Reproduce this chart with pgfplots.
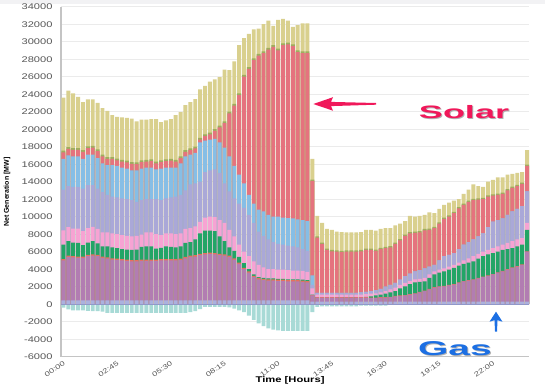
\documentclass[border=0pt]{standalone}
\usepackage{fontspec}
\setmainfont{Liberation Sans}
\newfontfamily\wide[FakeStretch=1.35]{Liberation Sans}
\usepackage{graphicx}
\usepackage{pgfplots}
\usepackage{pgfplotstable}
\pgfplotsset{compat=1.18}
\definecolor{khaki}{HTML}{D9D08E}
\definecolor{olive}{HTML}{9DAE5E}
\definecolor{solar}{HTML}{E5737E}
\definecolor{lblue}{HTML}{86BEE6}
\definecolor{lav}{HTML}{AAA8D8}
\definecolor{pink}{HTML}{F7A3D3}
\definecolor{grn}{HTML}{22A566}
\definecolor{orng}{HTML}{E8705C}
\definecolor{purp}{HTML}{B27DB2}
\definecolor{peri}{HTML}{ABB1DE}
\definecolor{teal}{HTML}{A8DAD6}
\definecolor{zeroc}{HTML}{9298C9}
\definecolor{gridc}{HTML}{EBEBEB}
\definecolor{axisc}{HTML}{C4C4C4}
\definecolor{tickc}{HTML}{555555}
\definecolor{solarc}{HTML}{F0185A}
\definecolor{gasc}{HTML}{1C6FE3}
\definecolor{topband}{HTML}{F2F2F4}
% cumulative tops of each layer (MW); N = negative part
\pgfplotstableread{
i N A B C D E F G H I J
0 -400 450 5000 5150 6800 8450 13100 16600 17350 17550 23600
1 -600 450 5400 5550 7200 8800 13500 17000 17750 17950 24400
2 -700 450 5350 5500 7050 8650 13400 16900 17650 17850 24100
3 -700 450 5300 5450 7000 8650 13400 16900 17650 17850 23700
4 -700 450 5300 5450 6750 8350 13200 16600 17400 17600 23100
5 -750 450 5500 5650 7050 8700 13600 17100 17850 18050 23400
6 -800 450 5550 5700 7200 8850 13600 17100 17900 18100 23400
7 -800 450 5500 5650 6950 8600 13200 16700 17500 17700 23000
8 -850 450 5300 5450 6600 8200 12800 16100 16900 17100 22400
9 -1000 450 5200 5350 6600 8200 12500 15900 16600 16800 22100
10 -1000 450 5100 5250 6500 8100 12300 15900 16600 16800 21600
11 -1000 450 5050 5200 6400 8000 12200 15800 16450 16650 21400
12 -1000 450 5000 5150 6300 7900 12100 15600 16300 16500 21350
13 -1000 450 4950 5100 6250 7800 12000 15500 16200 16400 21300
14 -1000 450 4900 5050 6200 7750 11900 15300 16050 16250 21200
15 -1000 450 4900 5050 6250 7800 11700 15300 16000 16200 20900
16 -1000 450 4950 5100 6550 7950 11900 15500 16250 16450 21100
17 -1000 450 4950 5100 6600 8200 12000 15600 16300 16500 21100
18 -1000 450 4950 5100 6600 8200 12000 15600 16350 16550 21150
19 -1000 450 4950 5100 6350 8000 12000 15400 16100 16300 21150
20 -1000 450 5000 5150 6450 7900 11900 15500 16250 16450 20800
21 -1000 450 5000 5150 6600 8100 12100 15600 16350 16550 21000
22 -1000 450 5000 5150 6550 8100 12200 15600 16400 16600 21150
23 -1000 450 5000 5150 6500 8000 12300 15600 16300 16500 21600
24 -1000 450 5050 5200 6600 8100 12500 16100 16700 16900 21950
25 -1000 450 5250 5400 7000 8600 13000 16900 17400 17600 22750
26 -900 450 5400 5550 7100 8700 13700 17100 17600 17800 23100
27 -800 450 5450 5600 7400 8900 13800 17300 17800 18000 23450
28 -550 450 5600 5750 8100 9400 14000 18500 18800 19000 24550
29 -300 450 5700 5850 8400 9900 15100 18700 19200 19400 24950
30 -300 450 5750 5900 8400 10000 15300 18800 19400 19600 25450
31 -300 450 5700 5850 8350 9950 15400 18900 19800 20000 25700
32 -300 450 5600 5750 7750 9600 15000 18500 20200 20400 25950
33 -300 450 5550 5700 7200 9300 13800 17900 20700 20900 26800
34 -350 450 5400 5550 6500 8500 12900 16900 21800 22000 26750
35 -500 450 5100 5250 6100 7750 12100 15800 22700 22900 27750
36 -700 450 4600 4750 5400 6800 11500 14800 23900 24100 29600
37 -900 450 4000 4150 4700 6000 11000 13800 26000 26200 30400
38 -1300 450 3600 3750 4000 5500 10200 12500 26900 27100 30900
39 -1800 450 3100 3250 3400 4900 9300 11500 27900 28100 31400
40 -2200 450 2850 3000 3100 4500 8300 10800 28400 28600 31500
41 -2500 450 2750 2900 3000 4200 7800 10600 28700 28900 32000
42 -2750 450 2700 2850 2950 4000 7400 10200 29100 29300 32400
43 -2900 450 2700 2850 2950 4000 7100 10000 29400 29600 31800
44 -3000 450 2650 2800 2900 3950 6900 10000 29000 29200 32500
45 -3050 450 2650 2800 2900 3950 6800 9900 29600 29800 32600
46 -3050 450 2600 2750 2850 3900 6700 9850 29700 29900 32400
47 -3050 450 2600 2750 2850 3850 6600 9800 29500 29700 31700
48 -3050 450 2600 2750 2850 3850 6500 9700 28800 29000 31900
49 -3050 450 2550 2700 2800 3800 6300 9600 28700 28900 32100
50 -3050 450 2500 2650 2750 3700 6100 9500 28700 28900 32100
51 -900 300 1000 1050 1100 1800 2200 3300 14100 14250 16600
52 -300 300 750 800 800 1100 1300 1300 7600 7750 10100
53 -250 300 750 800 800 1100 1300 1300 6900 7050 9300
54 -250 300 750 800 800 1100 1300 1300 6200 6350 8600
55 -250 300 750 800 800 1100 1300 1300 6050 6200 8500
56 -250 300 750 800 800 1100 1300 1300 6000 6150 8300
57 -250 300 750 800 800 1100 1300 1300 5950 6100 8250
58 -250 300 750 800 800 1100 1300 1300 6000 6150 8200
59 -250 300 750 800 800 1100 1300 1300 6000 6150 8200
60 -250 300 750 800 800 1100 1300 1300 6000 6150 8200
61 -150 300 750 800 800 1100 1350 1350 6050 6200 8250
62 -150 300 750 800 850 1150 1400 1400 6200 6350 8500
63 -150 300 700 750 900 1200 1500 1500 6200 6350 8500
64 -150 300 700 750 1000 1250 1600 1600 6100 6250 8400
65 -150 300 750 800 1100 1350 1750 1750 6300 6450 8600
66 -150 300 750 800 1200 1500 2000 2000 6400 6550 8700
67 -50 300 800 850 1350 1700 2200 2200 6500 6650 8700
68 -50 300 900 950 1500 1900 2450 2450 6900 7050 9000
69 -50 300 950 1000 1800 2200 2800 2800 7300 7450 9200
70 -50 300 1000 1050 2050 2450 3200 3200 7800 7950 9500
71 0 300 1100 1150 2300 2650 3500 3500 8100 8250 10100
72 0 300 1200 1250 2500 2850 3750 3750 8150 8300 10000
73 0 300 1350 1400 2550 2900 3900 3900 8200 8350 10100
74 0 300 1500 1550 2600 3000 4100 4100 8450 8600 10200
75 0 300 1700 1750 3000 3400 4300 4300 8500 8650 10500
76 0 300 1900 1950 3400 3750 4500 4500 8700 8850 10400
77 0 300 2000 2050 3600 3950 5000 5000 9200 9350 10900
78 0 300 2050 2100 3750 4100 5500 5500 9750 9900 11350
79 0 300 2150 2200 3950 4300 5650 5650 10000 10150 11600
80 0 300 2250 2300 4150 4500 5850 5850 10400 10550 11850
81 0 300 2450 2500 4400 4750 6300 6300 10950 11100 12000
82 0 300 2600 2650 4600 5000 6800 6800 11350 11500 12600
83 0 300 2700 2750 4750 5250 7100 7100 11700 11850 13100
84 0 300 2800 2850 4900 5500 7400 7400 11900 12050 13700
85 0 300 2950 3000 5200 5750 7750 7750 11950 12100 13500
86 0 300 3100 3150 5500 6000 8100 8100 12000 12150 13400
87 0 300 3250 3300 5700 6200 8800 8800 12300 12450 14000
88 0 300 3400 3450 5850 6400 9450 9450 12400 12550 14200
89 0 300 3600 3650 6000 6600 9600 9600 12500 12650 14500
90 0 300 3750 3800 6200 6800 9800 9800 12600 12750 14500
91 0 300 3950 4000 6300 7000 10200 10200 13000 13150 14800
92 0 300 4150 4200 6400 7200 10600 10600 13300 13450 14900
93 0 300 4300 4350 6600 7400 10900 10900 13500 13650 15000
94 0 300 4500 4550 6800 7550 11200 11200 13750 13900 15100
95 0 300 6000 6050 8500 9300 12900 12900 15800 15950 17600
}\gen
\begin{document}
\begin{tikzpicture}
\useasboundingbox (-61pt,-27.3pt) rectangle (484pt,356.7pt);
\fill[topband] (-61pt,353pt) rectangle (484pt,356.7pt);
\begin{axis}[
  at={(0pt,0pt)}, anchor=south west,
  scale only axis, width=468.5pt, height=350pt,
  xmin=-0.5, xmax=95.5, ymin=-6000, ymax=34000,
  ybar, bar width=0.8, bar shift=0pt,
  axis x line*=bottom, axis y line*=left,
  axis line style={draw=axisc, line width=1.2pt},
  ytick={-6000,-4000,...,34000},
  scaled y ticks=false,
  xtick={0,11,22,33,44,55,66,77,88},
  xticklabels={00:00,02:45,05:30,08:15,11:00,13:45,16:30,19:15,22:00},
  major tick style={draw=none},
  ymajorgrids, grid style={draw=gridc, line width=0.8pt},
  /pgf/number format/assume math mode=true,
  /pgf/number format/1000 sep={},
  y tick label style={font=\wide\fontsize{8.2}{9}\selectfont, text=tickc, xshift=-5pt},
  x tick label style={font=\wide\fontsize{6.8}{7}\selectfont, text=tickc, rotate=35, anchor=north east, inner sep=0.5pt, xshift=0.5pt, yshift=1.5pt},
  xlabel={Time [Hours]}, ylabel={Net Generation [MW]},
  every axis x label/.style={at={(axis description cs:0.489,-0.0665)}, anchor=center, font=\wide\bfseries\fontsize{8.3}{9}\selectfont},
  every axis y label/.style={at={(axis description cs:-0.115,0.47)}, rotate=90, anchor=center, font=\bfseries\fontsize{7}{8}\selectfont},
]
\addplot[draw=none, fill=khaki] table[x=i, y=J]{\gen};
\addplot[draw=none, fill=olive] table[x=i, y=I]{\gen};
\addplot[draw=none, fill=solar] table[x=i, y=H]{\gen};
\addplot[draw=none, fill=lblue] table[x=i, y=G]{\gen};
\addplot[draw=none, fill=lav] table[x=i, y=F]{\gen};
\addplot[draw=none, fill=pink] table[x=i, y=E]{\gen};
\addplot[draw=none, fill=grn] table[x=i, y=D]{\gen};
\addplot[draw=none, fill=orng] table[x=i, y=C]{\gen};
\addplot[draw=none, fill=purp] table[x=i, y=B]{\gen};
\addplot[draw=none, fill=peri] table[x=i, y=A]{\gen};
\addplot[draw=none, fill=teal] table[x=i, y=N]{\gen};
\draw[zeroc, line width=0.6pt] (axis cs:-0.5,0) -- (axis cs:95.5,0);
\end{axis}
% Solar annotation
\fill[solarc] (252.3pt,252.7pt) -- (272pt,259.5pt) -- (270pt,254.8pt) -- (315pt,253.7pt) -- (315pt,252pt) -- (270pt,250.6pt) -- (272pt,246pt) -- cycle;
\node[text=black!30, font=\bfseries\fontsize{18}{18}\selectfont, inner sep=0pt] at (404pt,243.7pt) {\scalebox{2.0}[1]{Solar}};
\node[text=solarc, font=\bfseries\fontsize{18}{18}\selectfont, inner sep=0pt] at (403pt,244.7pt) {\scalebox{2.0}[1]{Solar}};
% Gas annotation
\fill[gasc] (435pt,45pt) -- (441.5pt,35pt) -- (436.5pt,36.5pt) -- (436pt,25pt) -- (434pt,25pt) -- (433.5pt,36.5pt) -- (428.5pt,35pt) -- cycle;
\node[text=black!30, font=\bfseries\fontsize{20}{20}\selectfont, inner sep=0pt] at (395pt,6.7pt) {\scalebox{1.95}[1]{Gas}};
\node[text=gasc, font=\bfseries\fontsize{20}{20}\selectfont, inner sep=0pt] at (394pt,7.7pt) {\scalebox{1.95}[1]{Gas}};
\end{tikzpicture}
\end{document}
